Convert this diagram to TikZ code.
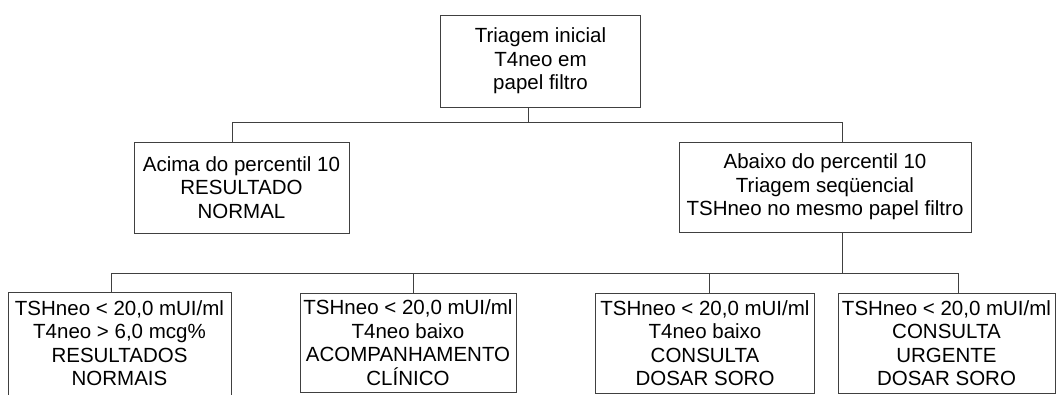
\documentclass[tikz,border=0pt]{standalone}
\usepackage{fontspec}
\setmainfont{Liberation Sans}
\tikzset{
  caixa/.style={draw=black!75, line width=0.9pt, align=center, inner sep=0pt,
    font=\fontsize{20.5}{23.5}\selectfont},
  liga/.style={draw=black!75, line width=0.9pt}
}
\begin{document}
\begin{tikzpicture}[x=1pt,y=-1pt]
\useasboundingbox (0,0) rectangle (1058,394);

% Caixa da triagem inicial
\node[caixa, minimum width=200pt, minimum height=92pt] (inicial) at (540.5,61) {Triagem inicial\\T4neo em\\papel filtro};

% Segundo nível
\node[caixa, minimum width=215pt, minimum height=91pt] (acima) at (241.5,187.5) {Acima do percentil 10\\RESULTADO\\NORMAL};
\node[caixa, minimum width=292pt, minimum height=90pt] (abaixo) at (825,187) {Abaixo do percentil 10\\Triagem seqüencial\\TSHneo no mesmo papel filtro};

% Terceiro nível (a primeira caixa continua abaixo da figura)
\node[caixa, draw=none, minimum width=222pt, minimum height=100pt] (normais) at (119.5,343) {TSHneo < 20,0 mUI/ml\\T4neo > 6,0 mcg\%\\RESULTADOS\\NORMAIS};
\draw[liga] ([yshift=-10pt]normais.south west) -- (normais.north west) -- (normais.north east) -- ([yshift=-10pt]normais.south east);
\node[caixa, minimum width=216pt, minimum height=99pt] (clinico) at (408,342.5) {TSHneo < 20,0 mUI/ml\\T4neo baixo\\ACOMPANHAMENTO\\CLÍNICO};
\node[caixa, minimum width=219pt, minimum height=100pt] (consulta) at (705,343) {TSHneo < 20,0 mUI/ml\\T4neo baixo\\CONSULTA\\DOSAR SORO};
\node[caixa, minimum width=217pt, minimum height=100pt] (urgente) at (946.5,343) {TSHneo < 20,0 mUI/ml\\CONSULTA\\URGENTE\\DOSAR SORO};

% Pontos das ligações
\coordinate (ramo) at (528,122);
\coordinate (pe) at (232,122);
\coordinate (pd) at (842,122);
\coordinate (qc) at (842,273);
\coordinate (q1) at (111.5,273);
\coordinate (q2) at (413,273);
\coordinate (q3) at (709.4,273);
\coordinate (q4) at (958,273);

% Ligações
\draw[liga] (inicial.south -| ramo) -- (ramo);
\draw[liga] (acima.north -| pe) -- (pe) -- (pd) -- (abaixo.north -| pd);
\draw[liga] (abaixo.south -| qc) -- (qc);
\draw[liga] (normais.north -| q1) -- (q1) -- (q4) -- (urgente.north -| q4);
\draw[liga] (q2) -- (clinico.north -| q2);
\draw[liga] (q3) -- (consulta.north -| q3);
\end{tikzpicture}
\end{document}
